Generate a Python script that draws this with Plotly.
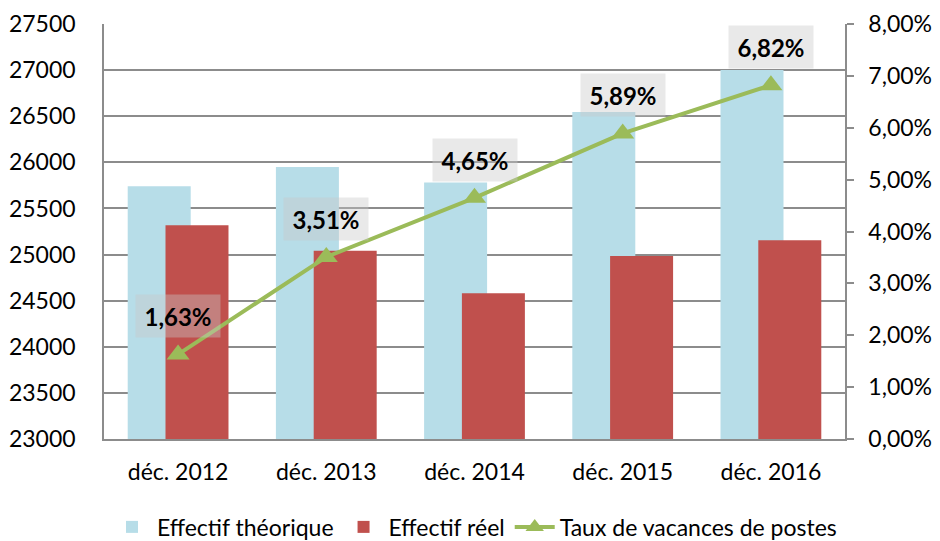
import plotly.graph_objects as go

categories = ["déc. 2012", "déc. 2013", "déc. 2014", "déc. 2015", "déc. 2016"]
effectif_theorique = [25740, 25950, 25780, 26545, 27000]
effectif_reel = [25318, 25040, 24580, 24985, 25155]
taux_vacances = [0.0163, 0.0351, 0.0465, 0.0589, 0.0682]
taux_labels = ["1,63%", "3,51%", "4,65%", "5,89%", "6,82%"]

FONT = "Lato, 'Open Sans', sans-serif"
GRID = "#8C8C8C"
FS = 23

fig = go.Figure()
fig.add_trace(go.Bar(
    x=categories, y=effectif_theorique, name="Effectif théorique",
    marker=dict(color="#B7DDE8", line=dict(width=0)),
    width=0.425, offset=-0.34,
))
fig.add_trace(go.Bar(
    x=categories, y=effectif_reel, name="Effectif réel",
    marker=dict(color="#C0504D", line=dict(width=0)),
    width=0.425, offset=-0.085,
))
fig.add_trace(go.Scatter(
    x=categories, y=taux_vacances, name="Taux de vacances de postes",
    yaxis="y2", mode="lines+markers",
    line=dict(color="#9BBB59", width=4),
    marker=dict(symbol="triangle-up", size=20, color="#9BBB59"),
))

for c, v, t in zip(categories, taux_vacances, taux_labels):
    fig.add_annotation(
        x=c, y=v, xref="x", yref="y2", text="<b>" + t + "</b>",
        showarrow=False, yshift=38, width=82, height=40,
        bgcolor="rgba(200,200,200,0.4)",
        font=dict(family=FONT, size=24, color="black"),
    )

fig.update_layout(
    width=940, height=541,
    margin=dict(l=104, r=95, t=24, b=102, autoexpand=False),
    paper_bgcolor="white", plot_bgcolor="white",
    barmode="overlay",
    separators=", ",
    font=dict(family=FONT, size=FS, color="black"),
    showlegend=True,
    legend=dict(orientation="h", x=0.5, xanchor="center", yref="container", y=0.026,
                yanchor="middle", font=dict(family=FONT, size=FS, color="black"), itemwidth=40),
    xaxis=dict(type="category", showgrid=False, showline=True, linecolor=GRID, linewidth=1.5,
               ticks="", tickfont=dict(size=FS), range=[-0.5, 4.5], automargin=False,
               ticklabelstandoff=12),
    yaxis=dict(range=[23000, 27500], dtick=500, tickformat="d", showgrid=True,
               gridcolor=GRID, gridwidth=1.5, showline=True, linecolor=GRID, linewidth=1.5,
               ticks="", ticklen=0, zeroline=False, tickfont=dict(size=FS), automargin=False,
               ticklabelstandoff=22),
    yaxis2=dict(range=[0, 0.08], dtick=0.01, tickformat=".2%", overlaying="y", side="right",
                showgrid=False, showline=True, linecolor=GRID, linewidth=1.5,
                ticks="outside", ticklen=7, tickcolor=GRID, tickwidth=1.5,
                zeroline=False, tickfont=dict(size=FS), automargin=False,
                ticklabelstandoff=10),
)

fig.write_html("out.html", config={"displayModeBar": False},
               post_script="document.body.style.margin='0px';document.body.style.overflow='hidden';")
